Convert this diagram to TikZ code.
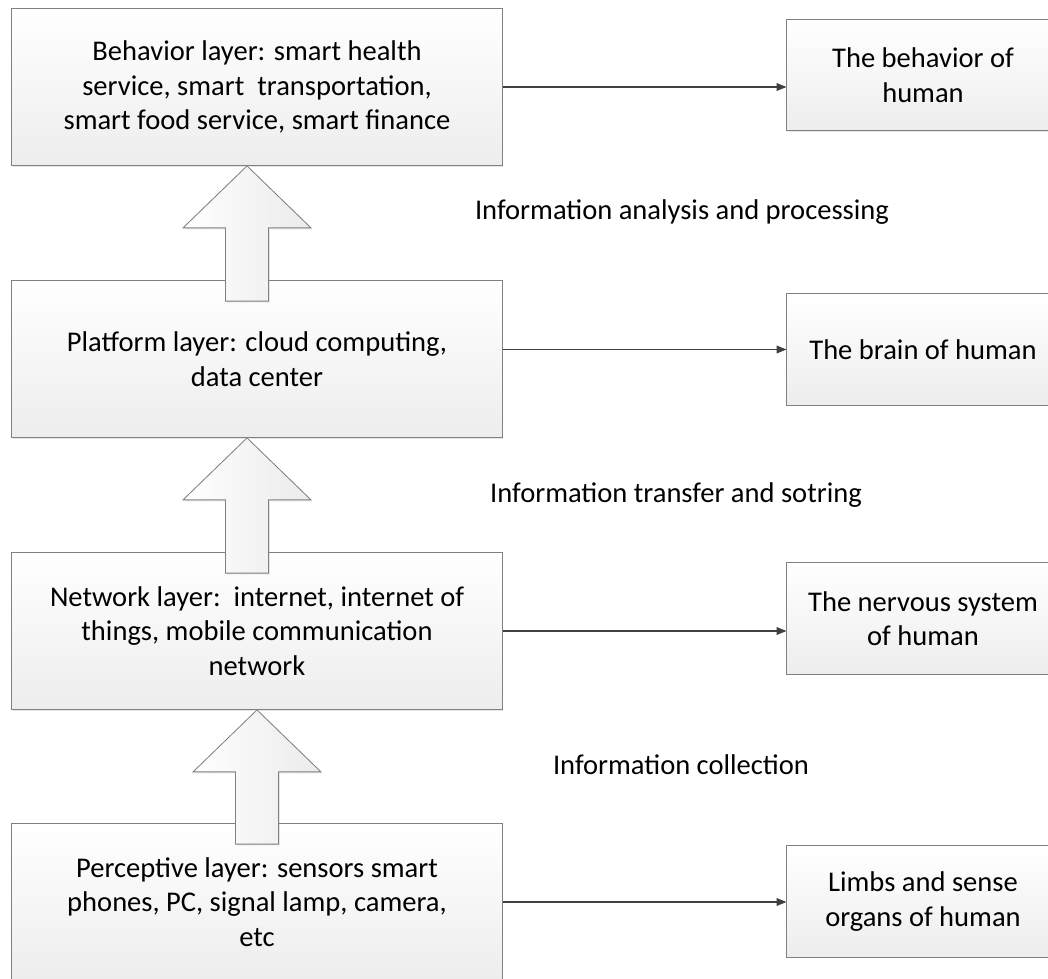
\documentclass[tikz,border=0pt]{standalone}
\usepackage{fontspec}
\setmainfont{Carlito}
\usepackage{tikz}
\usetikzlibrary{arrows.meta,calc,shadows}

\definecolor{boxline}{RGB}{128,128,128}
\definecolor{linkcol}{RGB}{64,64,64}

\tikzset{
	layer/.style={draw=boxline, line width=0.7pt, top color=white, bottom color=black!7,
		minimum width=12.25cm, minimum height=3.92cm, inner sep=0pt, align=center,
		drop shadow={shadow xshift=1pt, shadow yshift=-1pt, opacity=0.2}},
	organ/.style={layer, minimum width=6.8cm, minimum height=2.775cm},
	blockarrow/.style={draw=boxline, line width=0.6pt, left color=white, right color=black!8,
		drop shadow={shadow xshift=1pt, shadow yshift=-1pt, opacity=0.2}},
	link/.style={draw=linkcol, line width=0.8pt, -{Triangle[length=7pt,width=5.5pt]}},
	stage/.style={inner sep=0pt}
}

\begin{document}
\begin{tikzpicture}[x=0.025cm, y=-0.025cm, font=\fontsize{20.3}{24.5}\selectfont]
	
	\useasboundingbox (0,0) rectangle (1048,979);
	
	% layers
	\node[layer] (L1) at (257,87) {Behavior layer: smart health\\service, smart\ \ transportation,\\smart food service, smart finance};
	\node[layer] (L2) at (257,359) {Platform layer: cloud computing,\\data center};
	\node[layer] (L3) at (257,631) {Network layer:\ \ internet, internet of\\things, mobile communication\\network};
	\node[layer] (L4) at (257,902) {Perceptive layer: sensors smart\\phones, PC, signal lamp, camera,\\etc};
	
	% human counterparts
	\node[organ] (R1) at (923,75) {The behavior of\\human};
	\node[organ] (R2) at (923,349.5) {The brain of human};
	\node[organ] (R3) at (923,618.5) {The nervous system\\of human};
	\node[organ] (R4) at (923,901.5) {Limbs and sense\\organs of human};
	
	% block arrows between layers
	\foreach \up/\lo/\ax in {L1/L2/247, L2/L3/247, L3/L4/257}
	\path[blockarrow] (\ax,0 |- \up.south) -- ++(64,62) -- ++(-42.5,0)
		-- ($(\ax,0 |- \lo.north)+(21.5,21)$) -- ++(-43,0)
		-- ($(\ax,0 |- \up.south)+(-21.5,62)$) -- ++(-42.5,0) -- cycle;
	
	\node[stage] (s1) at (682,212) {Information analysis and processing};
	\node[stage] (s2) at (676,495) {Information transfer and sotring};
	\node[stage] (s3) at (681,765) {Information collection};
	
	\draw[link] (L1.east) -- (L1.east -| R1.west);
	\draw[link] (L2.east |- R2.west) -- (R2.west);
	\draw[link] (L3.east) -- (L3.east -| R3.west);
	\draw[link] (L4.east) -- (L4.east -| R4.west);
	
\end{tikzpicture}
\end{document}
